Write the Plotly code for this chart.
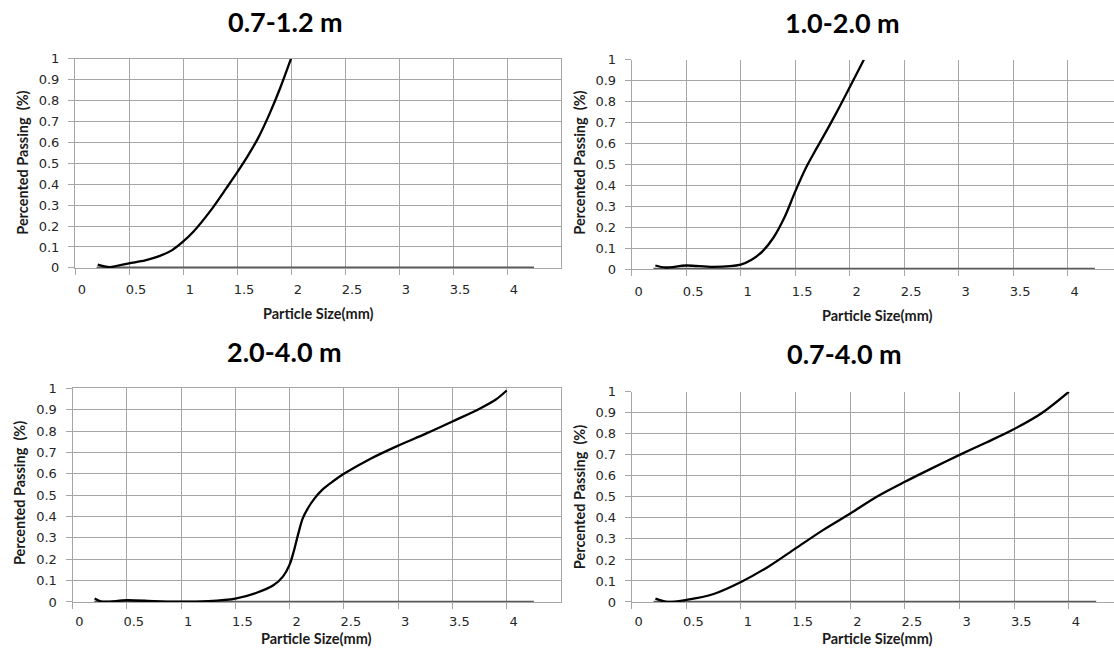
import plotly.graph_objects as go

# ---------------- data ----------------
titles = ["0.7-1.2 m", "1.0-2.0 m", "2.0-4.0 m", "0.7-4.0 m"]

x_a = [0.21, 0.32, 0.5, 0.65, 0.78, 0.9, 1.0, 1.1, 1.25, 1.4, 1.5, 1.6, 1.7, 1.8, 1.9, 2.0]
y_a = [0.016, 0.004, 0.022, 0.036, 0.056, 0.085, 0.125, 0.175, 0.27, 0.38, 0.455, 0.535, 0.625, 0.735, 0.86, 1.0]

x_b = [0.217, 0.31, 0.5, 0.75, 1.0, 1.1, 1.2, 1.3, 1.4, 1.5, 1.6, 1.7, 1.8, 1.9, 2.0, 2.13]
y_b = [0.0175, 0.008, 0.0175, 0.011, 0.022, 0.045, 0.085, 0.15, 0.245, 0.37, 0.485, 0.58, 0.672, 0.768, 0.868, 1.0]

x_c = [0.204, 0.27, 0.5, 0.75, 1.0, 1.25, 1.5, 1.69, 1.85, 1.94, 2.0, 2.04, 2.08, 2.12, 2.17, 2.23,
       2.3, 2.4, 2.5, 2.75, 3.0, 3.25, 3.5, 3.75, 3.9, 4.0]
y_c = [0.016, 0.002, 0.008, 0.004, 0.001, 0.004, 0.016, 0.042, 0.078, 0.12, 0.175, 0.24, 0.32, 0.39, 0.44, 0.485,
       0.525, 0.565, 0.6, 0.672, 0.732, 0.787, 0.845, 0.905, 0.948, 0.99]

x_d = [0.217, 0.33, 0.5, 0.75, 1.0, 1.25, 1.5, 1.75, 2.0, 2.25, 2.5, 2.75, 3.0, 3.25, 3.5, 3.75, 4.0]
y_d = [0.016, 0.0, 0.01, 0.038, 0.095, 0.168, 0.255, 0.342, 0.421, 0.503, 0.572, 0.637, 0.70, 0.76, 0.823, 0.898, 1.0]

# second (zero) series
x_zero = [0.2, 4.25]
y_zero = [0, 0]

x_ticks = [0, 0.5, 1, 1.5, 2, 2.5, 3, 3.5, 4]
x_ticklabels = ["0", "0.5", "1", "1.5", "2", "2.5", "3", "3.5", "4"]
y_ticks = [0, 0.1, 0.2, 0.3, 0.4, 0.5, 0.6, 0.7, 0.8, 0.9, 1]
y_ticklabels = ["0", "0.1", "0.2", "0.3", "0.4", "0.5", "0.6", "0.7", "0.8", "0.9", "1"]

x_title = "Particle Size(mm)"
y_title = "Percented Passing\u00a0\u00a0(%)"

series = [(x_a, y_a), (x_b, y_b), (x_c, y_c), (x_d, y_d)]

# ---------------- layout geometry (pixels) ----------------
W, H = 1114, 656
# (left px, right px, top px, bottom px, x-range max, border, tick standoff)
panels = [
    (75, 561, 52.9, 267.0, 4.5, True, 4),
    (631.7, 1114, 53.9, 268.3, 4.425, False, 4),
    (72.5, 561, 390.3, 608.9, 4.5, True, 1),
    (631.7, 1114, 393.8, 608.9, 4.413, False, 1),
]
title_pos = [(285, 14.5), (842, 15.5), (284.6, 352.5), (844.5, 354.5)]
xt_pos = [(318, 313.5), (878, 315.5), (316, None), (878, None)]
yt_pos = [(23, 159.4), (580, 159.4), (19, 497.5), (579, 501.6)]

GRID = "#a6a6a6"
TICKFONT = dict(family="DejaVu Sans", size=13, color="#262626")
TITLEFONT = dict(family="Lato", size=27, color="black")
AXTFONT = dict(family="Lato", size=14.5, color="#1a1a1a")

fig = go.Figure()
layout = dict(
    width=W, height=H,
    margin=dict(l=0, r=0, t=0, b=0),
    paper_bgcolor="white", plot_bgcolor="white",
    showlegend=False,
    annotations=[],
)

for i, ((xs, ys), (l, r, t, b, xmax, mirror, stand)) in enumerate(zip(series, panels)):
    n = "" if i == 0 else str(i + 1)
    xa, ya = "x" + n, "y" + n
    fig.add_trace(go.Scatter(x=x_zero, y=y_zero, mode="lines",
                             line=dict(color="#5a5a5a", width=2.6),
                             xaxis=xa, yaxis=ya, hoverinfo="skip"))
    fig.add_trace(go.Scatter(x=xs, y=ys, mode="lines",
                             line=dict(color="black", width=2.3, shape="spline", smoothing=0.9),
                             xaxis=xa, yaxis=ya))
    layout["xaxis" + n] = dict(
        domain=[l / W, r / W], range=[0, xmax], anchor=ya,
        tickmode="array", tickvals=x_ticks, ticktext=x_ticklabels,
        showgrid=True, gridcolor=GRID, gridwidth=1,
        zeroline=False, showline=True, linecolor=GRID, linewidth=1,
        mirror=mirror,
        ticks="outside", ticklen=6, tickcolor=GRID, tickwidth=1,
        tickfont=TICKFONT, ticklabelshift=7, ticklabelstandoff=stand,
        fixedrange=True,
    )
    layout["yaxis" + n] = dict(
        domain=[1 - b / H, 1 - t / H], range=[0, 1], anchor=xa,
        tickmode="array", tickvals=y_ticks, ticktext=y_ticklabels,
        showgrid=True, gridcolor=GRID, gridwidth=1,
        zeroline=False, showline=True, linecolor=GRID, linewidth=1,
        mirror=mirror,
        ticks="outside", ticklen=6, tickcolor=GRID, tickwidth=1,
        tickfont=TICKFONT, ticklabelstandoff=6,
        fixedrange=True,
    )
    tx, ty = title_pos[i]
    layout["annotations"].append(dict(
        text="<b>%s</b>" % titles[i], x=tx / W, y=1 - ty / H, xref="paper", yref="paper",
        xanchor="center", yanchor="middle", showarrow=False, font=TITLEFONT))
    xx, xy = xt_pos[i]
    if xy is None:
        layout["annotations"].append(dict(
            text="<b>%s</b>" % x_title, x=xx / W, y=0, xref="paper", yref="paper",
            xanchor="center", yanchor="bottom", showarrow=False, borderpad=0, font=AXTFONT))
    else:
        layout["annotations"].append(dict(
            text="<b>%s</b>" % x_title, x=xx / W, y=1 - xy / H, xref="paper", yref="paper",
            xanchor="center", yanchor="middle", showarrow=False, borderpad=0, font=AXTFONT))
    yx, yy = yt_pos[i]
    layout["annotations"].append(dict(
        text="<b>%s</b>" % y_title, x=yx / W, y=1 - yy / H, xref="paper", yref="paper",
        xanchor="center", yanchor="middle", showarrow=False, textangle=-90, borderpad=0, font=AXTFONT))

fig.update_layout(**layout)
fig.write_html("out.html")
